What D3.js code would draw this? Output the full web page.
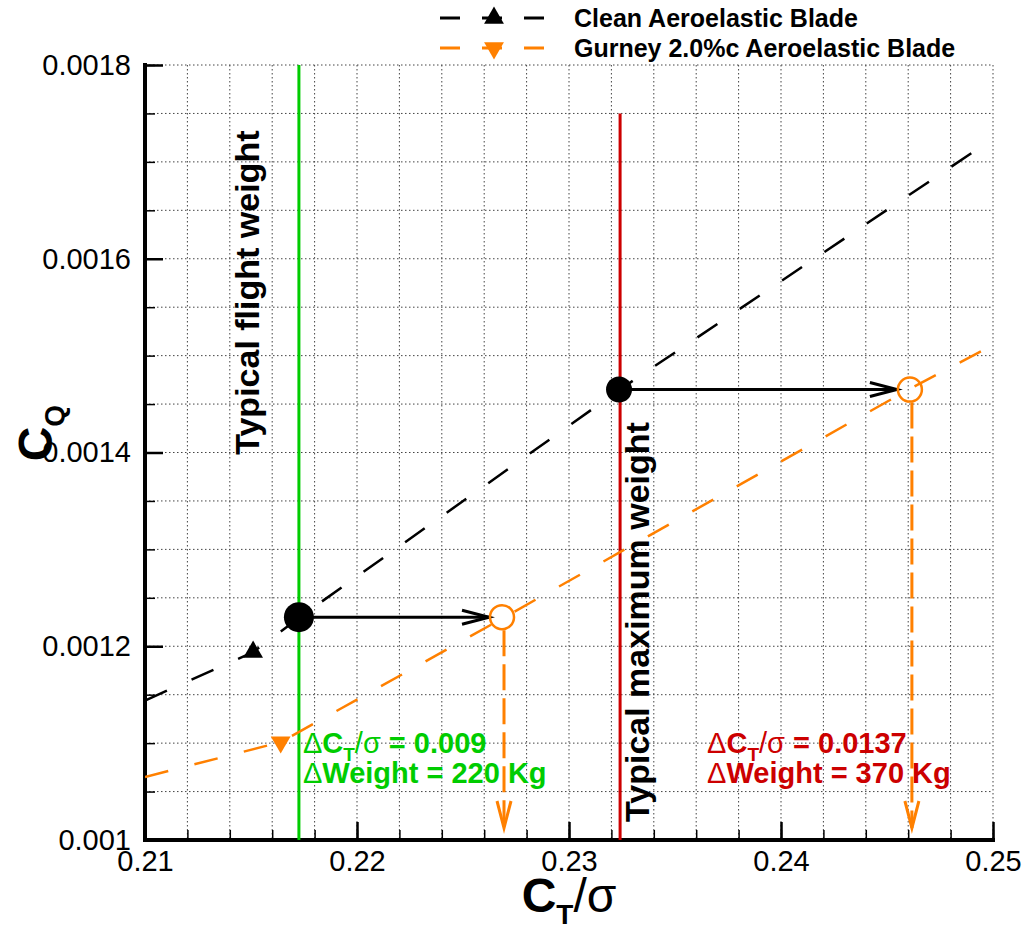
<!DOCTYPE html>
<html>
<head>
<meta charset="utf-8">
<script src="https://cdn.jsdelivr.net/npm/d3@7"></script>
<style>
  body { margin: 0; background: #fff; }
  text { font-family: "Liberation Sans", Arial, sans-serif; }
</style>
</head>
<body>
<svg width="1029" height="940"></svg>
<script>
// data
const ctTicks = [0.21, 0.22, 0.23, 0.24, 0.25];
const cqTicks = [0.001, 0.0012, 0.0014, 0.0016, 0.0018];

const cleanCT = [0.21, 0.2151, 0.2173, 0.2324, 0.25];
const cleanCQ = [0.001144, 0.001194, 0.00123, 0.001465, 0.001724];
const gurneyCT = [0.21, 0.2164, 0.2268, 0.2461, 0.25];
const gurneyCQ = [0.001065, 0.001101, 0.001228, 0.001466, 0.001511];

// symbols shown on the curves
const cleanSymCT = [0.2151];
const cleanSymCQ = [0.001194];
const gurneySymCT = [0.2164];
const gurneySymCQ = [0.001101];

// operating points: clean -> gurney at same CQ
const opCleanCT = [0.21726, 0.23236];
const opGurneyCT = [0.22684, 0.24608];
const opCQ = [0.00123, 0.001465];

const flightCT = 0.21726;
const maxCT = 0.23241;
const maxLineTop = 0.00175;

const legendNames = ['Clean Aeroelastic Blade', 'Gurney 2.0%c Aeroelastic Blade'];

const black = '#000';
const orange = '#ff8000';
const green = '#00cc00';
const red = '#cc0000';

const svg = d3.select('svg');
const width = +svg.attr('width');
const height = +svg.attr('height');
const margin = { top: 65, right: 36, bottom: 100, left: 145 };
const innerWidth = width - margin.left - margin.right;
const innerHeight = height - margin.top - margin.bottom;

const x = d3.scaleLinear().domain([0.21, 0.25]).range([0, innerWidth]);
const y = d3.scaleLinear().domain([0.001, 0.0018]).range([innerHeight, 0]);

const g = svg.append('g')
  .attr('transform', `translate(${margin.left},${margin.top})`);

svg.append('defs').append('clipPath').attr('id', 'clip')
  .append('rect').attr('width', innerWidth).attr('height', innerHeight);

// grid
const xMinor = d3.range(0, 21).map(i => 0.21 + i * 0.002);
const yMinor = d3.range(0, 17).map(i => 0.001 + i * 0.00005);

g.append('g').selectAll('line').data(xMinor.slice(1)).join('line')
  .attr('x1', d => x(d)).attr('x2', d => x(d))
  .attr('y1', 0).attr('y2', innerHeight)
  .attr('stroke', '#444').attr('stroke-width', 1).attr('stroke-dasharray', '1.5 2.5');
g.append('g').selectAll('line').data(yMinor.slice(1)).join('line')
  .attr('y1', d => y(d)).attr('y2', d => y(d))
  .attr('x1', 0).attr('x2', innerWidth)
  .attr('stroke', '#444').attr('stroke-width', 1).attr('stroke-dasharray', '1.5 2.5');

// axes
const xAxisMinor = d3.axisBottom(x).tickValues(xMinor).tickSize(-10);
const yAxisMinor = d3.axisLeft(y).tickValues(yMinor).tickSize(-10);
const xAxis = d3.axisBottom(x).tickValues(ctTicks).tickSize(-18).tickPadding(10)
  .tickFormat(d3.format('.2f'));
const yAxis = d3.axisLeft(y).tickValues(cqTicks).tickSize(-18).tickPadding(14)
  .tickFormat(d => d3.format('.4f')(d).replace(/0+$/, ''));

function styleAxis(sel) {
  sel.select('.domain').remove();
  sel.selectAll('.tick line').attr('stroke', '#000').attr('stroke-width', 2.5);
  sel.selectAll('.tick text').attr('font-size', 29).attr('fill', '#000')
    .style('font-family', '"Liberation Sans", Arial, sans-serif');
}

const xm = g.append('g').attr('transform', `translate(0,${innerHeight})`).call(xAxisMinor).call(styleAxis);
xm.selectAll('.tick text').remove();
xm.selectAll('.tick line').attr('stroke-width', 1.5);
const ym = g.append('g').call(yAxisMinor).call(styleAxis);
ym.selectAll('.tick text').remove();
ym.selectAll('.tick line').attr('stroke-width', 1.5);
g.append('g').attr('transform', `translate(0,${innerHeight})`).call(xAxis).call(styleAxis);
g.append('g').call(yAxis).call(styleAxis);

g.append('path')
  .attr('d', `M0,0V${innerHeight}H${innerWidth}`)
  .attr('fill', 'none').attr('stroke', '#000').attr('stroke-width', 4)
  .attr('stroke-linecap', 'square');

// vertical reference lines
g.append('line')
  .attr('x1', x(flightCT)).attr('x2', x(flightCT))
  .attr('y1', y(0.0018)).attr('y2', y(0.001))
  .attr('stroke', green).attr('stroke-width', 3);
g.append('line')
  .attr('x1', x(maxCT)).attr('x2', x(maxCT))
  .attr('y1', y(maxLineTop)).attr('y2', y(0.001))
  .attr('stroke', red).attr('stroke-width', 3);

// curves
const line = d3.line().x(d => x(d[0])).y(d => y(d[1]));
const plot = g.append('g').attr('clip-path', 'url(#clip)');
plot.append('path').datum(d3.zip(cleanCT, cleanCQ))
  .attr('d', line).attr('fill', 'none').attr('stroke', black)
  .attr('stroke-width', 2.5).attr('stroke-dasharray', '24 27');
plot.append('path').datum(d3.zip(gurneyCT, gurneyCQ))
  .attr('d', line).attr('fill', 'none').attr('stroke', orange)
  .attr('stroke-width', 2.5).attr('stroke-dasharray', '24 27');

const triUp = d3.symbol().type(d3.symbolTriangle).size(170);
plot.selectAll('.symClean').data(d3.zip(cleanSymCT, cleanSymCQ)).join('path')
  .attr('transform', d => `translate(${x(d[0])},${y(d[1])})`)
  .attr('d', triUp).attr('fill', black);
plot.selectAll('.symGurney').data(d3.zip(gurneySymCT, gurneySymCQ)).join('path')
  .attr('transform', d => `translate(${x(d[0])},${y(d[1])}) rotate(180)`)
  .attr('d', triUp).attr('fill', orange);

// arrows
function arrowHead(sel, tx, ty, dirX, dirY, color) {
  const len = 27, half = 7;
  const px = -dirY, py = dirX;
  sel.append('path')
    .attr('d', `M${tx - dirX * len + px * half},${ty - dirY * len + py * half}L${tx},${ty}L${tx - dirX * len - px * half},${ty - dirY * len - py * half}`)
    .attr('fill', 'none').attr('stroke', color).attr('stroke-width', 3);
}

opCQ.forEach((cq, i) => {
  const x0 = x(opCleanCT[i]);
  const x1 = x(opGurneyCT[i]);
  const yy = y(cq);
  // horizontal black arrow
  g.append('line').attr('x1', x0).attr('x2', x1 - 13).attr('y1', yy).attr('y2', yy)
    .attr('stroke', black).attr('stroke-width', 3);
  arrowHead(g, x1 - 13, yy, 1, 0, black);
  // vertical orange dashed arrow
  const tip = y(0.001) - 12;
  g.append('line').attr('x1', x1 + 2).attr('x2', x1 + 2).attr('y1', yy + 13).attr('y2', tip)
    .attr('stroke', orange).attr('stroke-width', 3).attr('stroke-dasharray', '26 8');
  arrowHead(g, x1 + 2, tip, 0, 1, orange);
  // markers
  g.append('circle').attr('cx', x0).attr('cy', yy).attr('r', i === 0 ? 15 : 13).attr('fill', black);
  g.append('circle').attr('cx', x1).attr('cy', yy).attr('r', 12)
    .attr('fill', 'none').attr('stroke', orange).attr('stroke-width', 2.5);
});

// rotated labels
g.append('text')
  .attr('transform', `translate(${x(flightCT) - 40},${y(0.001565)}) rotate(-90)`)
  .attr('text-anchor', 'middle').attr('font-size', 34).attr('font-weight', 'bold')
  .text('Typical flight weight');
g.append('text')
  .attr('transform', `translate(${x(maxCT) + 29},${y(0.001225)}) rotate(-90)`)
  .attr('text-anchor', 'middle').attr('font-size', 34).attr('font-weight', 'bold')
  .text('Typical maximum weight');

// delta annotations
function deltaText(xPos, yPos, color, dct, dw) {
  const t1 = g.append('text').attr('x', xPos).attr('y', yPos)
    .attr('font-size', 29).attr('font-weight', 'bold').attr('fill', color);
  t1.append('tspan').attr('font-weight', 'normal').text('\u0394');
  t1.append('tspan').text('C');
  t1.append('tspan').attr('font-size', 19).attr('dy', 8).text('T');
  t1.append('tspan').attr('dy', -8).attr('font-weight', 'normal').text('/\u03c3');
  t1.append('tspan').text(' = ' + dct);
  const t2 = g.append('text').attr('x', xPos).attr('y', yPos + 30)
    .attr('font-size', 29).attr('font-weight', 'bold').attr('fill', color);
  t2.append('tspan').attr('font-weight', 'normal').text('\u0394');
  t2.append('tspan').text('Weight = ' + dw + ' Kg');
}
deltaText(x(flightCT) + 4, y(0.001) - 87, green, '0.009', '220');
deltaText(x(maxCT) + 87, y(0.001) - 87, red, '0.0137', '370');

// axis titles
const xt = svg.append('text')
  .attr('x', margin.left + x(0.23)).attr('y', 912)
  .attr('text-anchor', 'middle').attr('font-size', 48);
xt.append('tspan').attr('font-weight', 'bold').text('C');
xt.append('tspan').attr('font-weight', 'bold').attr('font-size', 28).attr('dy', 12).text('T');
xt.append('tspan').attr('dy', -12).text('/\u03c3');

const yt = svg.append('text')
  .attr('transform', `translate(52,${margin.top + y(0.00142)}) rotate(-90)`)
  .attr('text-anchor', 'middle').attr('font-size', 48).attr('font-weight', 'bold');
yt.append('tspan').text('C');
yt.append('tspan').attr('font-size', 28).attr('dy', 12).text('Q');

// legend
const legend = svg.append('g');
const legColors = [black, orange];
legendNames.forEach((name, i) => {
  const ly = 18 + i * 30;
  const row = legend.append('g');
  row.append('line').attr('x1', 440).attr('x2', 548).attr('y1', ly).attr('y2', ly)
    .attr('stroke', legColors[i]).attr('stroke-width', 3).attr('stroke-dasharray', '20 22');
  row.append('path').attr('transform', `translate(494,${ly}) rotate(${i ? 180 : 0})`)
    .attr('d', triUp).attr('fill', legColors[i]);
  row.append('text').attr('x', 574).attr('y', ly).attr('dy', '0.35em')
    .attr('font-size', 25).attr('font-weight', 'bold').text(name);
});
</script>
</body>
</html>
